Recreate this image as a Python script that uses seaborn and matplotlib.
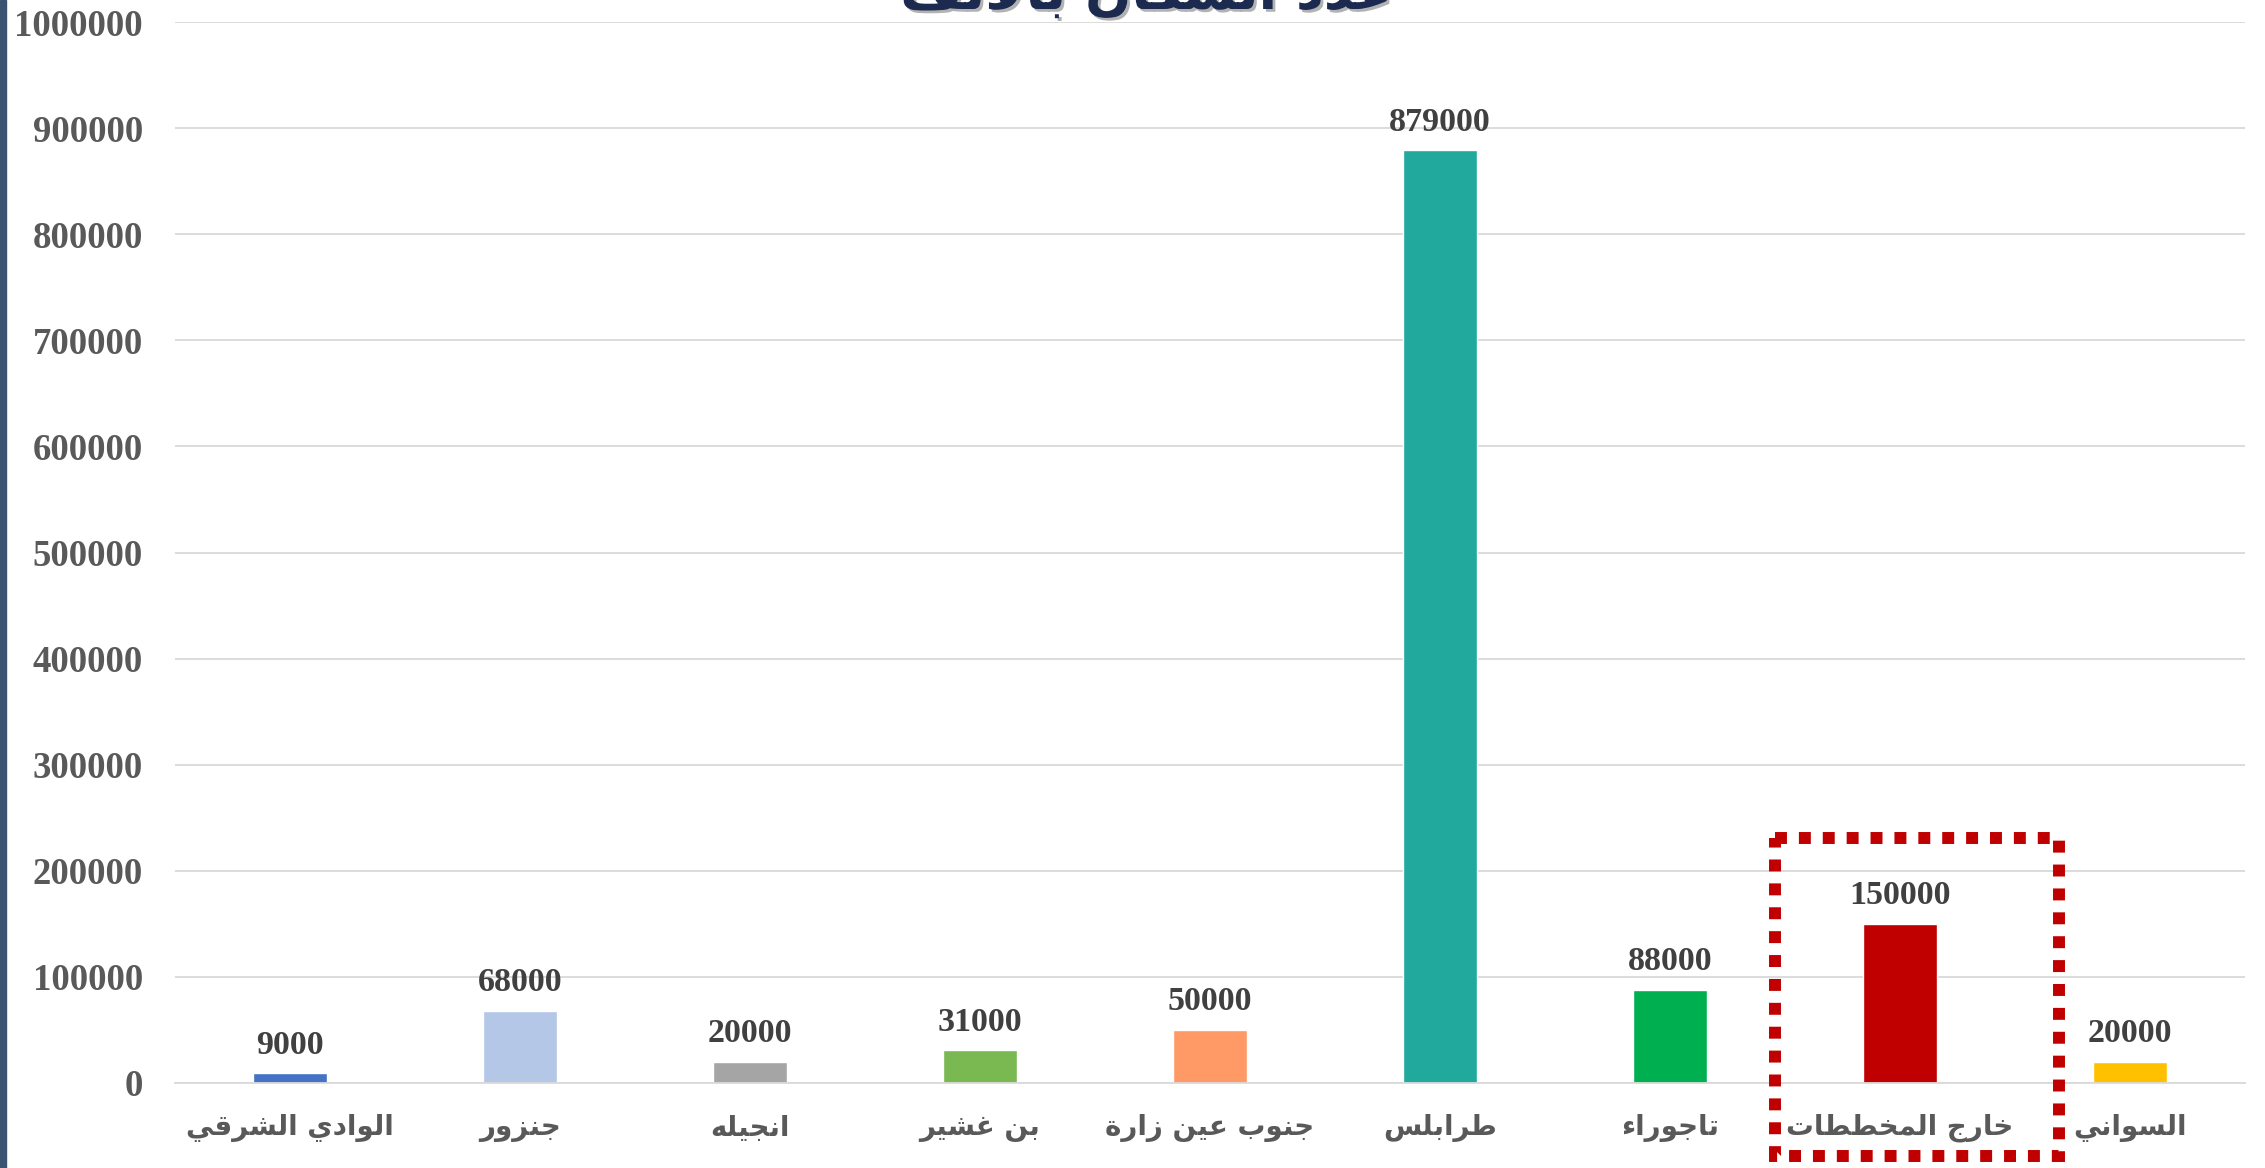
import numpy as np
import pandas as pd
import matplotlib
matplotlib.use("Agg")
import matplotlib.pyplot as plt
import matplotlib.patheffects as pe
from matplotlib.patches import Rectangle
import seaborn as sns

# ---------- data ----------
areas = ["الوادي الشرقي", "جنزور", "انجيله", "بن غشير", "جنوب عين زارة",
         "طرابلس", "تاجوراء", "خارج المخططات", "السواني"]
population = [9000, 68000, 20000, 31000, 50000, 879000, 88000, 150000, 20000]
bar_colors = ["#4472C4", "#B4C7E7", "#A5A5A5", "#7AB852", "#FF9966",
              "#20A99C", "#00B050", "#C00000", "#FFC000"]
y_ticks = [0, 100000, 200000, 300000, 400000, 500000, 600000, 700000, 800000, 900000, 1000000]
title = "عدد السكان بالألف"
highlight = "خارج المخططات"

# ---------- arabic shaping (matplotlib has no text shaping) ----------
FORMS = {
    "\u0621": ("\uFE80",),
    "\u0623": ("\uFE83", "\uFE84"),
    "\u0627": ("\uFE8D", "\uFE8E"),
    "\u0628": ("\uFE8F", "\uFE90", "\uFE91", "\uFE92"),
    "\u0629": ("\uFE93", "\uFE94"),
    "\u062A": ("\uFE95", "\uFE96", "\uFE97", "\uFE98"),
    "\u062C": ("\uFE9D", "\uFE9E", "\uFE9F", "\uFEA0"),
    "\u062E": ("\uFEA5", "\uFEA6", "\uFEA7", "\uFEA8"),
    "\u062F": ("\uFEA9", "\uFEAA"),
    "\u0631": ("\uFEAD", "\uFEAE"),
    "\u0632": ("\uFEAF", "\uFEB0"),
    "\u0633": ("\uFEB1", "\uFEB2", "\uFEB3", "\uFEB4"),
    "\u0634": ("\uFEB5", "\uFEB6", "\uFEB7", "\uFEB8"),
    "\u0637": ("\uFEC1", "\uFEC2", "\uFEC3", "\uFEC4"),
    "\u0639": ("\uFEC9", "\uFECA", "\uFECB", "\uFECC"),
    "\u063A": ("\uFECD", "\uFECE", "\uFECF", "\uFED0"),
    "\u0641": ("\uFED1", "\uFED2", "\uFED3", "\uFED4"),
    "\u0642": ("\uFED5", "\uFED6", "\uFED7", "\uFED8"),
    "\u0643": ("\uFED9", "\uFEDA", "\uFEDB", "\uFEDC"),
    "\u0644": ("\uFEDD", "\uFEDE", "\uFEDF", "\uFEE0"),
    "\u0645": ("\uFEE1", "\uFEE2", "\uFEE3", "\uFEE4"),
    "\u0646": ("\uFEE5", "\uFEE6", "\uFEE7", "\uFEE8"),
    "\u0647": ("\uFEE9", "\uFEEA", "\uFEEB", "\uFEEC"),
    "\u0648": ("\uFEED", "\uFEEE"),
    "\u064A": ("\uFEF1", "\uFEF2", "\uFEF3", "\uFEF4"),
}
LAM_ALEF = {"\u0627": ("\uFEFB", "\uFEFC"), "\u0623": ("\uFEF7", "\uFEF8")}


def shape(text):
    out = []
    i = 0
    while i < len(text):
        c = text[i]
        if c not in FORMS:
            out.append(c)
            i += 1
            continue
        prev = text[i - 1] if i > 0 else ""
        joins_prev = prev in FORMS and len(FORMS[prev]) == 4
        if c == "\u0644" and i + 1 < len(text) and text[i + 1] in LAM_ALEF:
            out.append(LAM_ALEF[text[i + 1]][1 if joins_prev else 0])
            i += 2
            continue
        nxt = text[i + 1] if i + 1 < len(text) else ""
        forms = FORMS[c]
        joins_next = len(forms) == 4 and nxt in FORMS
        if len(forms) == 1:
            out.append(forms[0])
        elif joins_prev and joins_next:
            out.append(forms[3])
        elif joins_prev:
            out.append(forms[1])
        elif joins_next:
            out.append(forms[2])
        else:
            out.append(forms[0])
        i += 1
    return "".join(reversed(out))


df = pd.DataFrame({"area": [shape(a) for a in areas], "population": population})

#---------- figure ----------
sns.set_style("white")
W, H = 2265, 1168
fig = plt.figure(figsize=(W / 100, H / 100), dpi=100)
ax = fig.add_axes([175 / W, 85 / H, (2245 - 175) / W, (1083 - 22) / H])

sns.barplot(data=df, x="area", y="population", hue="area",
            palette=bar_colors, legend=False, width=0.32, saturation=1, ax=ax)

ax.set_xlim(-0.5, len(areas) - 0.5)
ax.set_ylim(0, 1000000)
ax.set_yticks(y_ticks)
ax.set_yticklabels([str(t) for t in y_ticks], fontfamily="Liberation Serif",
                   fontweight="bold", fontsize=26.5, color="#595959")
ax.tick_params(axis="y", length=0, pad=23)
ax.tick_params(axis="x", length=0, pad=22)
for lbl in ax.get_xticklabels():
    lbl.set_fontfamily("DejaVu Sans")
    lbl.set_fontweight("bold")
    lbl.set_fontsize(20)
    lbl.set_color("#595959")
ax.set_xlabel("")
ax.set_ylabel("")
ax.grid(axis="y", color="#D9D9D9", linewidth=1.3)
ax.set_axisbelow(True)
for s in ["top", "right", "left"]:
    ax.spines[s].set_visible(False)
ax.spines["bottom"].set_color("#D9D9D9")
ax.spines["bottom"].set_linewidth(1.3)

#---------- value labels ----------
for i, v in enumerate(population):
    ax.annotate(str(v), (i, v), xytext=(0, 9), textcoords="offset points",
                ha="center", va="bottom", fontfamily="Liberation Serif",
                fontweight="bold", fontsize=24.5, color="#404040")

#---------- highlight box ----------
k = areas.index(highlight)
box_x = [k - 0.545, k + 0.69, k + 0.69, k - 0.545, k - 0.545]
box_y = [231000, 231000, -69000, -69000, 231000]
ax.plot(box_x, box_y, color="#C00000", linewidth=8.6, linestyle=(0, (1, 1)),
        dash_capstyle="butt", dash_joinstyle="miter", clip_on=False, zorder=5)

#---------- title (clipped at top) ----------
fig.text(1146 / W, 1 - 9 / H, shape(title), ha="center", va="baseline",
         fontfamily="DejaVu Sans", fontweight="bold", fontsize=39, color="#1B2A4E",
         path_effects=[pe.withSimplePatchShadow(offset=(2, -2), shadow_rgbFace="#000000", alpha=0.3)])

#---------- left border strip ----------
fig.patches.append(Rectangle((0, 0), 6 / W, 1, transform=fig.transFigure,
                             color="#3B5373", zorder=0))

plt.savefig("out.png", dpi=100)
